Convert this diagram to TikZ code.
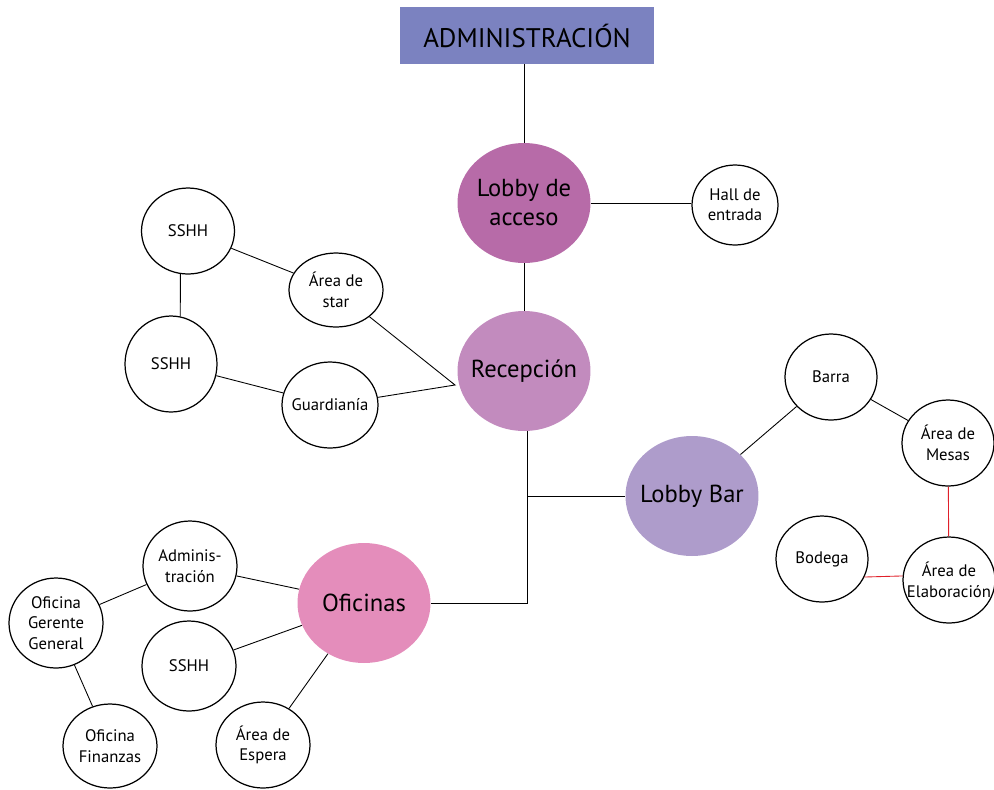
\documentclass[tikz,border=0pt]{standalone}
\usepackage{fontspec}
\setmainfont{PT Sans}
\usetikzlibrary{positioning,shapes.geometric}

\definecolor{admblue}{RGB}{123,130,192}
\definecolor{lobbyc}{RGB}{183,107,168}
\definecolor{recc}{RGB}{194,139,190}
\definecolor{barc}{RGB}{174,156,203}
\definecolor{ofic}{RGB}{228,141,187}
\definecolor{linkred}{RGB}{224,32,42}

\begin{document}
\begin{tikzpicture}[
  x=0.02cm, y=-0.02cm,
  big/.style={ellipse, inner sep=-0.4cm, minimum width=2.66cm, minimum height=2.4cm, align=center, font=\fontsize{14}{16.5}\selectfont},
  room/.style={ellipse, draw, line width=0.7pt, inner sep=-0.4cm, minimum width=1.86cm, minimum height=1.72cm, align=center, font=\fontsize{9.5}{11.6}\selectfont},
  link/.style={line width=0.5pt},
  redlink/.style={link, draw=linkred}]
  \useasboundingbox (0,0) rectangle (994,789);

  \node[fill=admblue, minimum width=5.08cm, minimum height=1.14cm, inner sep=0pt, font=\fontsize{15.3}{18}\selectfont] (adm) at (527,35.5) {ADMINISTRACIÓN};
  \node[big, fill=lobbyc] (lob) at (524,203) {Lobby de\\acceso};
  \node[big, fill=recc] (rec) at (524,371) {Recepción};
  \node[big, fill=barc] (bar) at (692,496) {Lobby Bar};
  \node[big, fill=ofic] (ofi) at (364,603) {Oficinas};

  % recepcion side
  \node[room, minimum width=1.72cm, minimum height=1.6cm] (hall) at (735,205) {Hall de\\entrada};
  \node[room] (ssA) at (188,231) {SSHH};
  \node[room, minimum width=1.88cm, minimum height=1.48cm] (star) at (336,290) {Área de\\star};
  \node[room, minimum width=1.84cm, minimum height=1.92cm] (ssB) at (171,364) {SSHH};
  \node[room, minimum width=1.92cm] (gua) at (330,405) {Guardianía};
  \coordinate (rj) at (455,385);
  \coordinate (rb) at ([xshift=0.06cm]rec.south);

  % lobby bar side
  \node[room, minimum width=1.84cm] (barra) at (831,377) {Barra};
  \node[room, minimum width=1.84cm] (mes) at (948,443) {Área de\\Mesas};
  \node[room, minimum width=1.84cm] (bod) at (822,559) {Bodega};
  \node[room, minimum width=1.84cm] (ela) at (949,580) {Área de\\Elaboración};

  % oficinas side
  \node[room, minimum width=1.88cm, minimum height=1.8cm] (admi) at (190,566) {Adminis-\\tración};
  \node[room, minimum width=1.88cm, minimum height=1.8cm] (ger) at (56,623) {Oficina\\Gerente\\General};
  \node[room, minimum width=1.88cm, minimum height=1.8cm] (ssC) at (189,666) {SSHH};
  \node[room, minimum width=1.88cm, minimum height=1.68cm] (fin) at (110,746) {Oficina\\Finanzas};
  \node[room, minimum width=1.88cm, minimum height=1.72cm] (esp) at (263,745) {Área de\\Espera};

  \draw[link] (lob.north) -- (lob.north |- adm.south);
  \draw[link] (lob.east) -- (lob.east -| hall.west);
  \draw[link] (lob) -- (rec);
  \draw[link] (ssA) -- (star);
  \draw[link] (ssA.260) -- (ssB.79);
  \draw[link] (ssB) -- (gua);
  \draw[link] (star) -- (rj) -- (gua);
  \draw[link] (rb) |- (ofi.east);
  \draw[link] (bar.west) -- (bar.west -| rb);
  \draw[link] (bar) -- (barra);
  \draw[link] (barra) -- (mes);
  \draw[redlink] (mes) -- (ela);
  \draw[redlink] (bod.-23) -- (ela.175);
  \draw[link] (admi) -- (ofi);
  \draw[link] (admi) -- (ger);
  \draw[link] (ger) -- (fin);
  \draw[link] (ssC) -- (ofi);
  \draw[link] (esp) -- (ofi);
\end{tikzpicture}
\end{document}
